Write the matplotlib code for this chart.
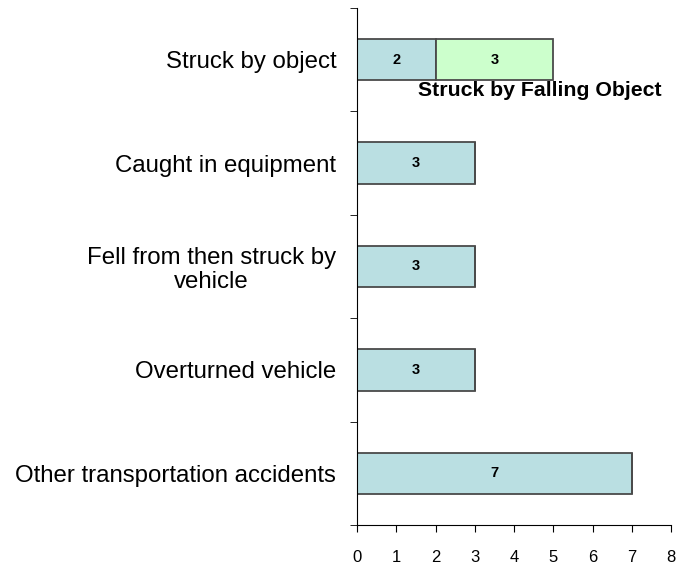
import matplotlib.pyplot as plt

categories = ['Struck by object', 'Caught in equipment', 'Fell from then struck by\nvehicle',
              'Overturned vehicle', 'Other transportation accidents']
base_vals = [2, 3, 3, 3, 7]
falling_vals = [3, 0, 0, 0, 0]
falling_label = 'Struck by Falling Object'

plt.rcParams['font.family'] = ['Liberation Sans', 'DejaVu Sans']

fig = plt.figure(figsize=(6.8, 5.67), dpi=100)
ax = fig.add_axes([0.525, 0.074, 0.462, 0.912])

y = list(range(len(categories)))[::-1]
bars1 = ax.barh(y, base_vals, height=0.4, color='#badfe2', edgecolor='#4a4a4a', linewidth=1.3)
bars2 = ax.barh(y, falling_vals, left=base_vals, height=0.4, color='#ccffcc', edgecolor='#4a4a4a', linewidth=1.3)

for b, v in zip(bars1, base_vals):
    ax.text(b.get_x() + b.get_width() / 2, b.get_y() + b.get_height() / 2, str(v),
            ha='center', va='center', fontsize=10.5, fontweight='bold')
for b, v in zip(bars2, falling_vals):
    if v:
        ax.text(b.get_x() + b.get_width() / 2, b.get_y() + b.get_height() / 2, str(v),
                ha='center', va='center', fontsize=10.5, fontweight='bold')
        ax.text(1.55, b.get_y() - 0.1, falling_label, ha='left', va='center',
                fontsize=15.3, fontweight='bold')

ax.set_xlim(0, 8)
ax.set_ylim(-0.5, len(categories) - 0.5)
ax.set_xticks(range(9))
ax.set_yticks(y)
ax.set_yticklabels(categories, fontsize=17.3, multialignment='center', linespacing=1.1)
ax.set_yticks([i - 0.5 for i in range(len(categories) + 1)], minor=True)
ax.tick_params(axis='y', which='major', length=0, pad=15)
ax.tick_params(axis='y', which='minor', length=5, direction='out')
ax.tick_params(axis='x', length=5, direction='out', labelsize=12, pad=13, colors='#000000')
for s in ['top', 'right']:
    ax.spines[s].set_visible(False)
ax.spines['left'].set_color('#000000')
ax.spines['bottom'].set_color('#000000')

fig.savefig('out.png', dpi=100)
